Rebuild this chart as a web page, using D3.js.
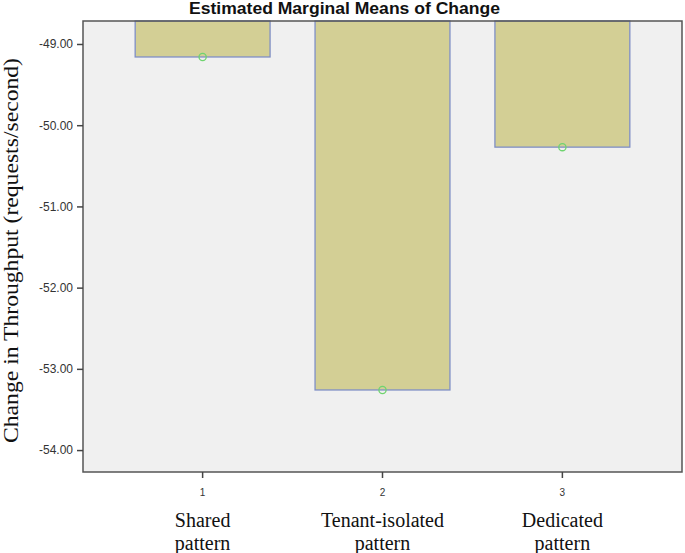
<!DOCTYPE html>
<html><head><meta charset="utf-8">
<script src="https://cdn.jsdelivr.net/npm/d3@7"></script>
<style>body{margin:0;background:#fff}</style>
</head><body>
<svg id="c" width="685" height="553"></svg>
<script>
const categories = ["1","2","3"];
const catNames = [["Shared","pattern"],["Tenant-isolated","pattern"],["Dedicated","pattern"]];
const means = [-49.16, -53.26, -50.27];
const yTicks = [-49,-50,-51,-52,-53,-54];

const svg = d3.select("#c");
const L=83,R=682,T=21,B=472;
const x = d3.scaleBand().domain(categories).range([L,R]).paddingInner(0.25).paddingOuter(0.29);
const y = d3.scaleLinear().domain([-48.717,-54.27]).range([T,B]);

svg.append("rect").attr("x",L).attr("y",T).attr("width",R-L).attr("height",B-T).attr("fill","#f0f0f0");

svg.selectAll(".bar").data(means).join("rect")
  .attr("x",(d,i)=>x(categories[i])).attr("width",x.bandwidth())
  .attr("y",y.range()[0]).attr("height",d=>y(d)-T)
  .attr("fill","#d3cf95").attr("stroke","#7f8fc6").attr("stroke-width",1.3);

svg.selectAll(".pt").data(means).join("circle")
  .attr("cx",(d,i)=>x(categories[i])+x.bandwidth()/2).attr("cy",d=>y(d)).attr("r",3.6)
  .attr("fill","none").attr("stroke","#6fd46f").attr("stroke-width",1.3);

svg.append("rect").attr("x",L).attr("y",T).attr("width",R-L).attr("height",B-T)
  .attr("fill","none").attr("stroke","#555").attr("stroke-width",1.5);

const fmt = d => d3.format(".2f")(d).replace("\u2212","-");
const ya = svg.append("g").attr("transform",`translate(${L},0)`)
  .call(d3.axisLeft(y).tickValues(yTicks).tickFormat(fmt).tickSize(6).tickPadding(4));
ya.select(".domain").remove();
ya.selectAll("line").attr("stroke","#444").attr("stroke-width",1.5);
ya.selectAll("text").attr("font-family","Liberation Sans, Arial, sans-serif").attr("font-size",12).attr("fill","#333");

const xa = svg.append("g").attr("transform",`translate(0,${B})`)
  .call(d3.axisBottom(x).tickSize(6).tickPadding(11));
xa.select(".domain").remove();
xa.selectAll("line").attr("stroke","#444").attr("stroke-width",1.5);
xa.selectAll("text").attr("font-family","Liberation Sans, Arial, sans-serif").attr("font-size",10).attr("fill","#333");

categories.forEach((c,i)=>{
  const cx = x(c)+x.bandwidth()/2;
  const t = svg.append("text").attr("x",cx).attr("text-anchor","middle")
    .attr("font-family","Liberation Serif, Times New Roman, serif").attr("font-size",20).attr("fill","#111");
  catNames[i].forEach((s,j)=>t.append("tspan").attr("x",cx).attr("y",527+j*23).text(s));
});

svg.append("text").attr("x",189).attr("y",14)
  .attr("font-family","Liberation Sans, Arial, sans-serif").attr("font-weight","bold").attr("font-size",16).attr("fill","#111")
  .attr("textLength",311).attr("lengthAdjust","spacingAndGlyphs")
  .text("Estimated Marginal Means of Change");

svg.append("text").attr("transform",`translate(18,443) rotate(-90)`)
  .attr("font-family","Liberation Serif, Times New Roman, serif").attr("font-size",20).attr("fill","#111")
  .attr("textLength",385).attr("lengthAdjust","spacingAndGlyphs")
  .text("Change in Throughput (requests/second)");
</script>
</body></html>
